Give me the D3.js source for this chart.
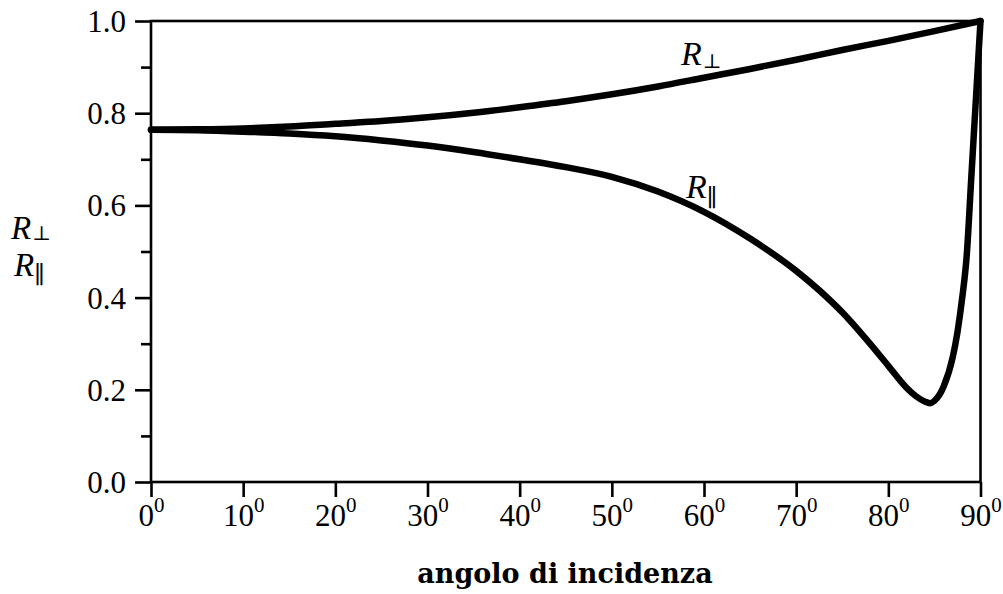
<!DOCTYPE html>
<html>
<head>
<meta charset="utf-8">
<script src="https://cdn.jsdelivr.net/npm/d3@7"></script>
<style>
  html, body { margin: 0; padding: 0; background: #fff; }
  svg { display: block; }
</style>
</head>
<body>
<svg id="chart" width="1003" height="594"></svg>
<script>
// ---- data ----
const anglesPerp = [0, 5, 10, 15, 20, 25, 30, 35, 40, 45, 50, 55, 60, 65, 70, 75, 80, 85, 90];
const rPerp      = [0.764, 0.765, 0.767, 0.771, 0.777, 0.783, 0.791, 0.801, 0.813, 0.826, 0.841, 0.858, 0.877, 0.896, 0.916, 0.937, 0.957, 0.978, 1.0];

const anglesPar = [0, 5, 10, 15, 20, 25, 30, 35, 40, 45, 50, 55, 60, 65, 70, 72.5, 75, 77.5, 80, 82, 83, 84, 84.5, 85, 86, 87, 87.5, 88, 88.5, 89, 89.5, 90];
const rPar      = [0.764, 0.763, 0.760, 0.756, 0.750, 0.741, 0.730, 0.716, 0.700, 0.683, 0.662, 0.630, 0.586, 0.528, 0.458, 0.416, 0.368, 0.312, 0.252, 0.204, 0.186, 0.174, 0.171, 0.176, 0.207, 0.272, 0.325, 0.397, 0.490, 0.660, 0.830, 1.0];

const xTicks = [0, 10, 20, 30, 40, 50, 60, 70, 80, 90];
const yMajorTicks = [0, 0.2, 0.4, 0.6, 0.8, 1.0];
const yMinorTicks = [0.1, 0.3, 0.5, 0.7, 0.9];
const xTitle = "angolo di incidenza";

// ---- layout ----
const svg = d3.select("#chart");
const L = 151, R = 980.5, T = 21, B = 482;
const x = d3.scaleLinear().domain([0, 90]).range([L, R]);
const y = d3.scaleLinear().domain([0, 1]).range([B, T]);
const serif = "'Liberation Serif', 'Times New Roman', serif";

svg.append("rect").attr("width", 1003).attr("height", 594).attr("fill", "#fff");

// frame
svg.append("rect")
  .attr("x", L).attr("y", T).attr("width", R - L).attr("height", B - T)
  .attr("fill", "none").attr("stroke", "#000").attr("stroke-width", 2.6);

// y axis major
const yAx = svg.append("g").attr("transform", `translate(${L},0)`)
  .call(d3.axisLeft(y).tickValues(yMajorTicks).tickSize(16).tickPadding(9).tickFormat(d3.format(".1f")));
yAx.select(".domain").remove();
yAx.selectAll(".tick line").attr("stroke", "#000").attr("stroke-width", 2.6);
yAx.selectAll(".tick text")
  .attr("font-family", serif).attr("font-size", 31).attr("fill", "#000")
  .attr("dy", null).attr("y", 10.5);

// y axis minor
const yMin = svg.append("g").attr("transform", `translate(${L},0)`)
  .call(d3.axisLeft(y).tickValues(yMinorTicks).tickSize(10).tickFormat(""));
yMin.select(".domain").remove();
yMin.selectAll(".tick line").attr("stroke", "#000").attr("stroke-width", 2.6);

// x axis
const xAx = svg.append("g").attr("transform", `translate(0,${B})`)
  .call(d3.axisBottom(x).tickValues(xTicks).tickSize(15).tickFormat(""));
xAx.select(".domain").remove();
xAx.selectAll(".tick line").attr("stroke", "#000").attr("stroke-width", 2.6);
xAx.selectAll(".tick").each(function(d) {
  const t = d3.select(this).append("text")
    .attr("y", 44).attr("text-anchor", "middle")
    .attr("font-family", serif).attr("font-size", 31).attr("fill", "#000");
  t.append("tspan").text(d);
  t.append("tspan").attr("font-size", 21).attr("dy", -14).text("0");
});

// curves
const line = d3.line().x(d => x(d[0])).y(d => y(d[1])).curve(d3.curveMonotoneX);
const perpData = anglesPerp.map((a, i) => [a, rPerp[i]]);
const parData = anglesPar.map((a, i) => [a, rPar[i]]);
[perpData, parData].forEach(data => {
  svg.append("path").datum(data).attr("d", line)
    .attr("fill", "none").attr("stroke", "#000")
    .attr("stroke-width", 6.5).attr("stroke-linecap", "round").attr("stroke-linejoin", "round");
});

// curve labels
function rLabel(px, py, sub, subDx, subDy, subSize, size) {
  const t = svg.append("text").attr("x", px).attr("y", py)
    .attr("font-family", serif).attr("font-size", size).attr("fill", "#000");
  t.append("tspan").attr("font-style", "italic").text("R");
  t.append("tspan").attr("font-family", "'DejaVu Serif', serif")
    .attr("font-size", subSize).attr("dx", subDx).attr("dy", subDy).text(sub);
}
rLabel(681, 65, "\u22A5", 1, 3, 20, 34);
rLabel(686, 198, "\u2225", 0, 8, 24, 34);

// y-axis title: two stacked labels
rLabel(11, 239, "\u22A5", 1, 1, 20, 33);
rLabel(14, 276, "\u2225", 0, 7, 24, 33);

// x title
svg.append("text").attr("x", 565).attr("y", 583).attr("text-anchor", "middle")
  .attr("font-family", "'DejaVu Serif', serif").attr("font-weight", "bold")
  .attr("font-size", 27).attr("fill", "#000").text(xTitle);
</script>
</body>
</html>
